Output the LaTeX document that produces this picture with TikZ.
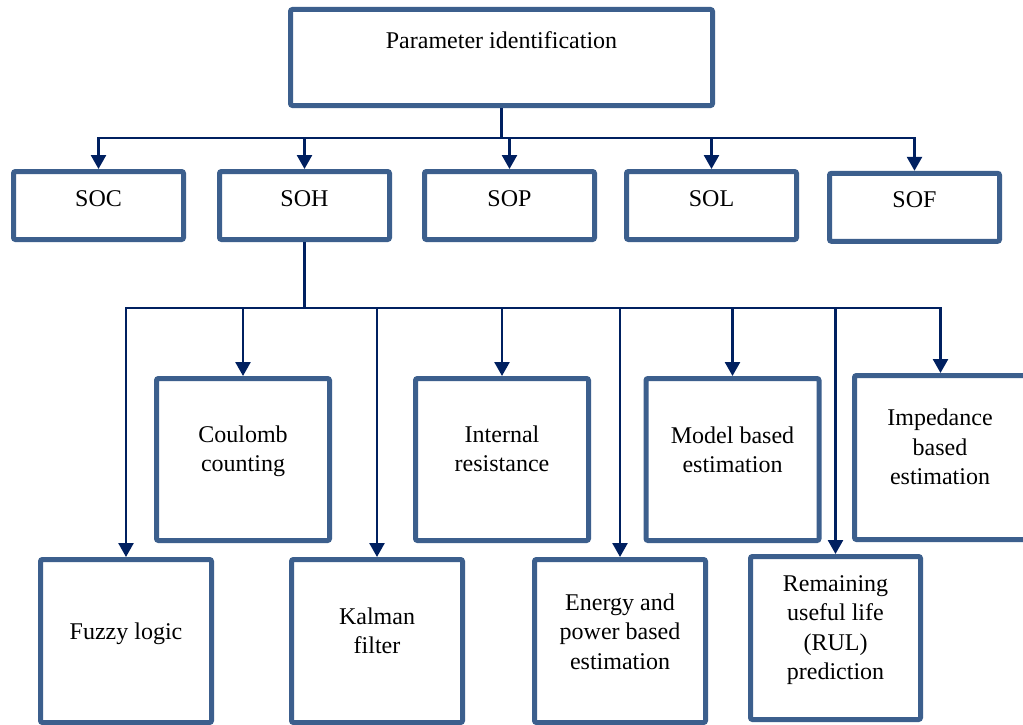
\documentclass[tikz,border=0pt]{standalone}
\usepackage{fontspec}
\setmainfont{Liberation Serif}
\usetikzlibrary{arrows.meta}
\definecolor{boxblue}{HTML}{3C5F8D}
\definecolor{navy}{HTML}{002060}
\begin{document}
\begin{tikzpicture}[x=1pt,y=-1pt,
  blk/.style={draw=boxblue, line width=5pt, rounded corners=2pt, fill=white, inner sep=0pt},
  txt/.style={font=\fontsize{24}{29.5}\selectfont, align=center, inner sep=0pt, text=black},
  link/.style={draw=navy, line width=2.6pt},
  feed/.style={link, -{Triangle[width=15pt,length=14pt]}},
  stem/.style={draw=navy, line width=3.6pt},
  bus/.style={link, line cap=rect}]
\useasboundingbox (0,0) rectangle (1023,725);
\fill[white] (0,0) rectangle (1023,725);

% top level
\node[blk, minimum width=422pt, minimum height=96pt] (param) at (501.5,57.5) {};
\node[txt] (param-t) at (501.5,40.5) {Parameter identification};

% state estimates
\foreach \n/\x/\y/\t in {soc/98.5/205.5/SOC, soh/304.5/205.5/SOH, sop/509.5/205.5/SOP,
                         sol/711.5/205.5/SOL, sof/914.5/207.3/SOF}{
  \node[blk, minimum width=170pt, minimum height=68pt] (\n) at (\x,\y) {};
  \node[txt] (\n-t) at (\x,\y-7.2) {\t};
}

% SOH methods, upper row
\node[blk, minimum width=173pt, minimum height=162pt] (coul) at (243,459.5) {};
\node[txt] (coul-t) at (243,451.5) {Coulomb\\counting};
\node[blk, minimum width=173pt, minimum height=162pt] (intr) at (502,459.5) {};
\node[txt] (intr-t) at (502,449) {Internal\\resistance};
\node[blk, minimum width=173pt, minimum height=162pt] (model) at (732.5,459.5) {};
\node[txt] (model-t) at (732.5,449.6) {Model based\\estimation};
\node[blk, minimum width=172pt, minimum height=164pt] (imp) at (940.5,457.5) {};
\node[txt] (imp-t) at (940,447) {Impedance\\based\\estimation};

% SOH methods, lower row
\node[blk, minimum width=171pt, minimum height=163pt] (fuzzy) at (126,641) {};
\node[txt] (fuzzy-t) at (126,633.4) {Fuzzy logic};
\node[blk, minimum width=171pt, minimum height=163pt] (kal) at (377,641) {};
\node[txt] (kal-t) at (377,631) {Kalman\\filter};
\node[blk, minimum width=171pt, minimum height=163pt] (energy) at (620,641) {};
\node[txt] (energy-t) at (620,631.3) {Energy and\\power based\\estimation};
\node[blk, minimum width=170pt, minimum height=163pt] (rul) at (835.5,638) {};
\node[txt] (rul-t) at (835.5,630.3) {Remaining\\useful life\\(RUL)\\prediction};

% tree from the top box
\draw[stem] (param.south) -- (param.south |- 0,138) coordinate (j1);
\draw[bus] (soc.north |- j1) -- (sof.north |- j1);
\foreach \n in {soc,soh,sop,sol,sof}
  \draw[feed] (\n.north |- j1) -- (\n.north);

% tree from SOH
\draw[stem] (soh.south) -- (soh.south |- 0,308) coordinate (j2);
\draw[bus] (fuzzy.north |- j2) -- (imp.north |- j2);
\foreach \n in {fuzzy,coul,kal,intr,energy,model,rul,imp}
  \draw[feed] (\n.north |- j2) -- (\n.north);
\end{tikzpicture}
\end{document}
